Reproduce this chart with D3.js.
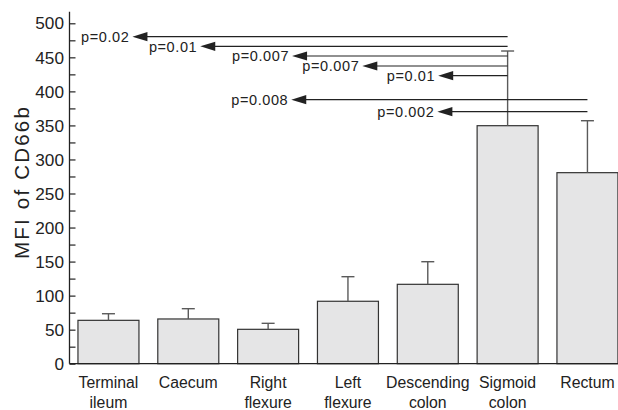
<!DOCTYPE html>
<html>
<head>
<meta charset="utf-8">
<script src="https://cdn.jsdelivr.net/npm/d3@7"></script>
<style>
  html, body { margin: 0; padding: 0; background: #fff; }
  svg { display: block; font-family: "Liberation Sans", Arial, sans-serif; }
</style>
</head>
<body>
<svg id="chart" width="618" height="410"></svg>
<script>
// ---- data ----
const categories = ["Terminal ileum", "Caecum", "Right flexure", "Left flexure", "Descending colon", "Sigmoid colon", "Rectum"];
const labelLines = [["Terminal", "ileum"], ["Caecum"], ["Right", "flexure"], ["Left", "flexure"], ["Descending", "colon"], ["Sigmoid", "colon"], ["Rectum"]];
const means = [63.7, 65.7, 50.5, 91.7, 116.6, 349.6, 280.6];
const errorTops = [73.4, 80.8, 59.3, 127.8, 149.8, 459.3, 356.9];
const yTicks = [0, 50, 100, 150, 200, 250, 300, 350, 400, 450, 500];
const yMinorTicks = [25, 75, 125, 175, 225, 275, 325, 375, 425, 475];
// comparisons: source category, target position (category index units), level (MFI units), label
const compSource = [5, 5, 5, 5, 5, 6, 6];
const compTarget = [0.30, 1.15, 2.30, 3.18, 4.13, 2.29, 4.12];
const compLevel = [480.3, 466.2, 452.0, 437.3, 423.0, 387.8, 370.2];
const compLabel = ["p=0.02", "p=0.01", "p=0.007", "p=0.007", "p=0.01", "p=0.008", "p=0.002"];

// ---- scales ----
const svg = d3.select("#chart");
const x = d3.scaleBand().domain(categories).range([69.5, 626.4]).paddingInner(0.236).paddingOuter(0.106);
const y = d3.scaleLinear().domain([0, 500]).range([363.7, 23.3]);
const xi = d3.scaleLinear()
  .domain([0, categories.length - 1])
  .range([x(categories[0]) + x.bandwidth() / 2, x(categories[categories.length - 1]) + x.bandwidth() / 2]);

const ink = "#222";

// ---- bars ----
svg.append("g").selectAll("rect").data(categories).join("rect")
  .attr("x", d => x(d))
  .attr("y", (d, i) => y(means[i]))
  .attr("width", x.bandwidth())
  .attr("height", (d, i) => y(0) - y(means[i]))
  .attr("fill", "#e5e5e6")
  .attr("stroke", "#333")
  .attr("stroke-width", 1.2);

// ---- error bars ----
const eb = svg.append("g").attr("stroke", "#5a5a5a").attr("stroke-width", 1.4);
categories.forEach((c, i) => {
  const cx = x(c) + x.bandwidth() / 2;
  eb.append("line").attr("x1", cx).attr("x2", cx).attr("y1", y(means[i])).attr("y2", y(errorTops[i]));
  eb.append("line").attr("x1", cx - 6.5).attr("x2", cx + 6.5).attr("y1", y(errorTops[i])).attr("y2", y(errorTops[i]));
});

// ---- axes ----
const axisG = svg.append("g");
axisG.append("line").attr("x1", x.range()[0]).attr("x2", 618).attr("y1", y(0)).attr("y2", y(0))
  .attr("stroke", ink).attr("stroke-width", 1.3);
axisG.append("line").attr("x1", x.range()[0]).attr("x2", x.range()[0]).attr("y1", y(0)).attr("y2", y(517))
  .attr("stroke", ink).attr("stroke-width", 1.3);

const yAxis = d3.axisRight(y).tickValues(yTicks.concat(yMinorTicks)).tickSize(6).tickFormat("");
const ya = svg.append("g").attr("transform", `translate(${x.range()[0]},0)`).call(yAxis);
ya.select(".domain").remove();
ya.selectAll(".tick line").attr("stroke", ink).attr("stroke-width", 1.2);

svg.append("g").selectAll("text").data(yTicks).join("text")
  .attr("x", x.range()[0] - 5.5)
  .attr("y", d => y(d))
  .attr("dy", "0.36em")
  .attr("text-anchor", "end")
  .attr("font-size", 17.2)
  .attr("fill", ink)
  .text(d => d);

// y title
svg.append("text")
  .attr("transform", "translate(22,182) rotate(-90)")
  .attr("text-anchor", "middle")
  .attr("dy", "0.36em")
  .attr("font-size", 20.5)
  .attr("letter-spacing", 2.2)
  .attr("fill", ink)
  .text("MFI of CD66b");

// category labels
const catG = svg.append("g");
labelLines.forEach((lines, i) => {
  const cx = x(categories[i]) + x.bandwidth() / 2;
  lines.forEach((t, j) => {
    catG.append("text")
      .attr("x", cx)
      .attr("y", 388 + j * 20)
      .attr("text-anchor", "middle")
      .attr("font-size", 15.8)
      .attr("fill", ink)
      .text(t);
  });
});

// ---- comparison arrows ----
const cg = svg.append("g");
compLabel.forEach((lab, i) => {
  const yy = y(compLevel[i]);
  const xs = xi(compSource[i]);
  const xt = xi(compTarget[i]);
  cg.append("line").attr("x1", xs).attr("x2", xt + 10).attr("y1", yy).attr("y2", yy)
    .attr("stroke", ink).attr("stroke-width", 1.2);
  cg.append("path")
    .attr("d", `M${xt},${yy} L${xt + 15},${yy - 4.6} L${xt + 15},${yy + 4.6} Z`)
    .attr("fill", ink);
  cg.append("text")
    .attr("x", xt - 3)
    .attr("y", yy)
    .attr("dy", "0.36em")
    .attr("text-anchor", "end")
    .attr("font-size", 14.5)
    .attr("letter-spacing", 0.6)
    .attr("fill", ink)
    .text(lab);
});
</script>
</body>
</html>
